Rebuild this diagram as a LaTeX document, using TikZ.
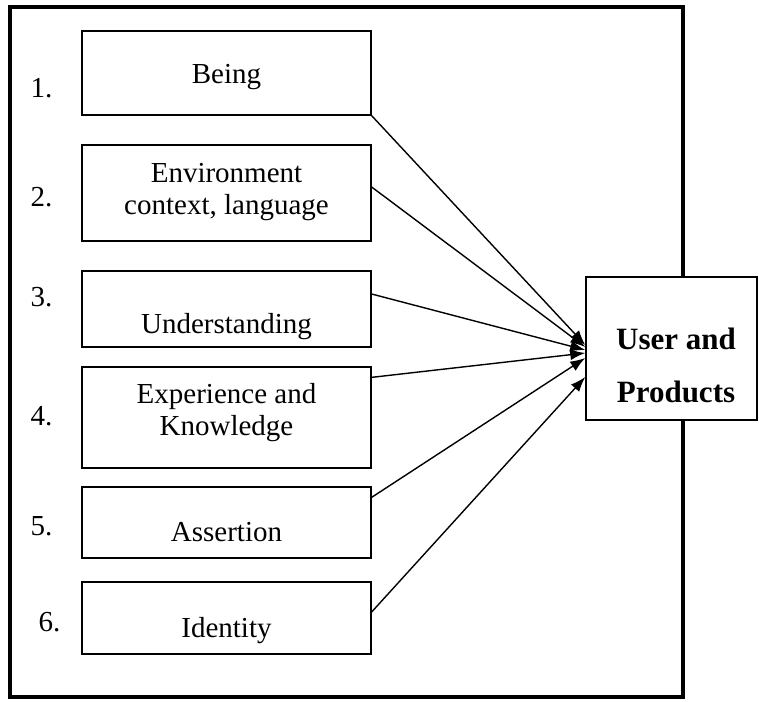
\documentclass[tikz,border=0pt]{standalone}
\usepackage{fontspec}
\setmainfont{Liberation Serif}
\usetikzlibrary{arrows.meta}

\begin{document}
\begin{tikzpicture}[x=1pt,y=-1pt,
    item/.style={draw,line width=1.3pt,minimum width=289pt,inner sep=0pt},
    num/.style={anchor=base west,font=\fontsize{29}{33}\selectfont},
    txt/.style={anchor=base,font=\fontsize{29}{33}\selectfont},
    bold/.style={anchor=base,font=\fontsize{31}{35}\selectfont\bfseries},
    link/.style={line width=1.4pt,-{Latex[length=15pt,width=11pt]}}]
    \useasboundingbox (0,0) rectangle (759,701);
    \draw[line width=3.5pt] (10,7) rectangle (683,697);
    \node[item,minimum height=84pt] at (226.5,73) (b1) {};
    \node[item,minimum height=96pt] at (226.5,193) (b2) {};
    \node[item,minimum height=76pt] at (226.5,309) (b3) {};
    \node[item,minimum height=101pt] at (226.5,417.5) (b4) {};
    \node[item,minimum height=71pt] at (226.5,522.5) (b5) {};
    \node[item,minimum height=72pt] at (226.5,618) (b6) {};
    \node[num] at (27,97) (n1) {1.};
    \node[num] at (27,206) (n2) {2.};
    \node[num] at (27,306) (n3) {3.};
    \node[num] at (27,425) (n4) {4.};
    \node[num] at (27,535) (n5) {5.};
    \node[num] at (35,631) (n6) {6.};
    \node[txt] at (226.5,83) (t1) {Being};
    \node[txt] at (226.5,182) (t2a) {Environment};
    \node[txt] at (226.5,214) (t2b) {context, language};
    \node[txt] at (226.5,333) (t3) {Understanding};
    \node[txt] at (226.5,403) (t4a) {Experience and};
    \node[txt] at (226.5,435) (t4b) {Knowledge};
    \node[txt] at (226.5,541) (t5) {Assertion};
    \node[txt] at (226.5,637) (t6) {Identity};
    \node[draw,fill=white,line width=1.5pt,minimum width=171pt,minimum height=143pt,inner sep=0pt] at (671.5,348.5) (user) {};
    \node[bold] at (676,349) (u1) {User and};
    \node[bold] at (676,402) (u2) {Products};
    \draw[link] (b1.south east) -- ([yshift=3.5pt]user.west);
    \draw[link] ([yshift=6pt]b2.east) -- ([yshift=1.5pt]user.west);
    \draw[link] ([yshift=15pt]b3.east) -- ([yshift=-1.5pt]user.west);
    \draw[link] ([yshift=-11pt]b4.north east) -- ([yshift=-4.5pt]user.west);
    \draw[link] ([yshift=-11pt]b5.north east) -- ([yshift=-9.5pt]user.west);
    \draw[link] ([yshift=6pt]b6.east) -- ([yshift=-28.5pt]user.west);
\end{tikzpicture}
\end{document}
